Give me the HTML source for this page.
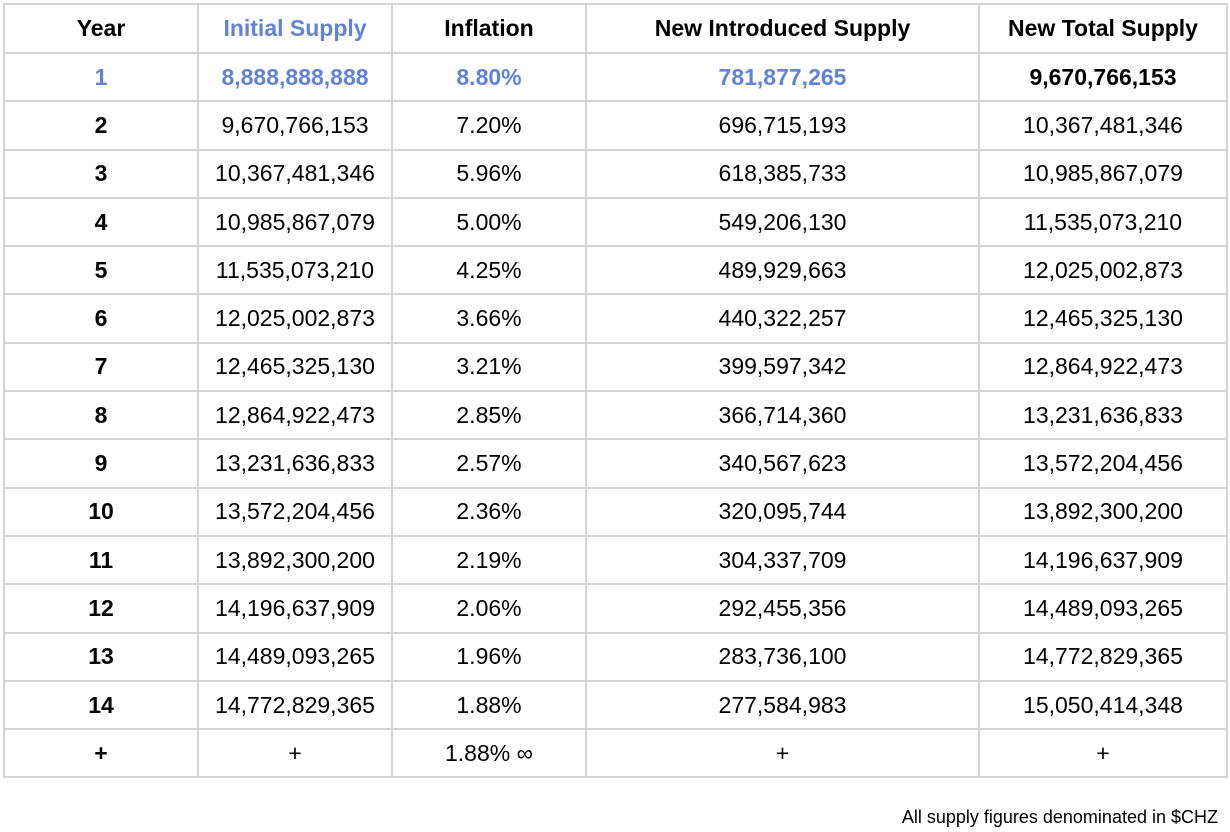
<!DOCTYPE html>
<html><head><style>
body{margin:0;width:1230px;height:832px;background:#fff;font-family:"Liberation Sans",Arial,sans-serif;position:relative;overflow:hidden}
table{position:absolute;left:3px;top:3px;border-collapse:collapse;table-layout:fixed}
td{border:2px solid #d4d4d4;height:46.3px;padding:0;text-align:center;font-size:23px;color:#000;white-space:nowrap}
tr:first-child td{height:47px}
.h td{font-weight:bold}
.b{color:#5f83db;font-weight:bold}
td.y{font-weight:bold}
.f{position:absolute;right:12px;top:807px;font-size:18px}
</style></head><body>
<table>
<colgroup><col style="width:194px"><col style="width:194px"><col style="width:194px"><col style="width:393px"><col style="width:248px"></colgroup>
<tr class="h"><td>Year</td><td class="b">Initial Supply</td><td>Inflation</td><td>New Introduced Supply</td><td>New Total Supply</td></tr>
<tr><td class="b">1</td><td class="b">8,888,888,888</td><td class="b">8.80%</td><td class="b">781,877,265</td><td class="y">9,670,766,153</td></tr>
<tr><td class="y">2</td><td>9,670,766,153</td><td>7.20%</td><td>696,715,193</td><td>10,367,481,346</td></tr>
<tr><td class="y">3</td><td>10,367,481,346</td><td>5.96%</td><td>618,385,733</td><td>10,985,867,079</td></tr>
<tr><td class="y">4</td><td>10,985,867,079</td><td>5.00%</td><td>549,206,130</td><td>11,535,073,210</td></tr>
<tr><td class="y">5</td><td>11,535,073,210</td><td>4.25%</td><td>489,929,663</td><td>12,025,002,873</td></tr>
<tr><td class="y">6</td><td>12,025,002,873</td><td>3.66%</td><td>440,322,257</td><td>12,465,325,130</td></tr>
<tr><td class="y">7</td><td>12,465,325,130</td><td>3.21%</td><td>399,597,342</td><td>12,864,922,473</td></tr>
<tr><td class="y">8</td><td>12,864,922,473</td><td>2.85%</td><td>366,714,360</td><td>13,231,636,833</td></tr>
<tr><td class="y">9</td><td>13,231,636,833</td><td>2.57%</td><td>340,567,623</td><td>13,572,204,456</td></tr>
<tr><td class="y">10</td><td>13,572,204,456</td><td>2.36%</td><td>320,095,744</td><td>13,892,300,200</td></tr>
<tr><td class="y">11</td><td>13,892,300,200</td><td>2.19%</td><td>304,337,709</td><td>14,196,637,909</td></tr>
<tr><td class="y">12</td><td>14,196,637,909</td><td>2.06%</td><td>292,455,356</td><td>14,489,093,265</td></tr>
<tr><td class="y">13</td><td>14,489,093,265</td><td>1.96%</td><td>283,736,100</td><td>14,772,829,365</td></tr>
<tr><td class="y">14</td><td>14,772,829,365</td><td>1.88%</td><td>277,584,983</td><td>15,050,414,348</td></tr>
<tr><td class="y">+</td><td>+</td><td>1.88% ∞</td><td>+</td><td>+</td></tr>
</table>
<div class="f">All supply figures denominated in $CHZ</div>
</body></html>
